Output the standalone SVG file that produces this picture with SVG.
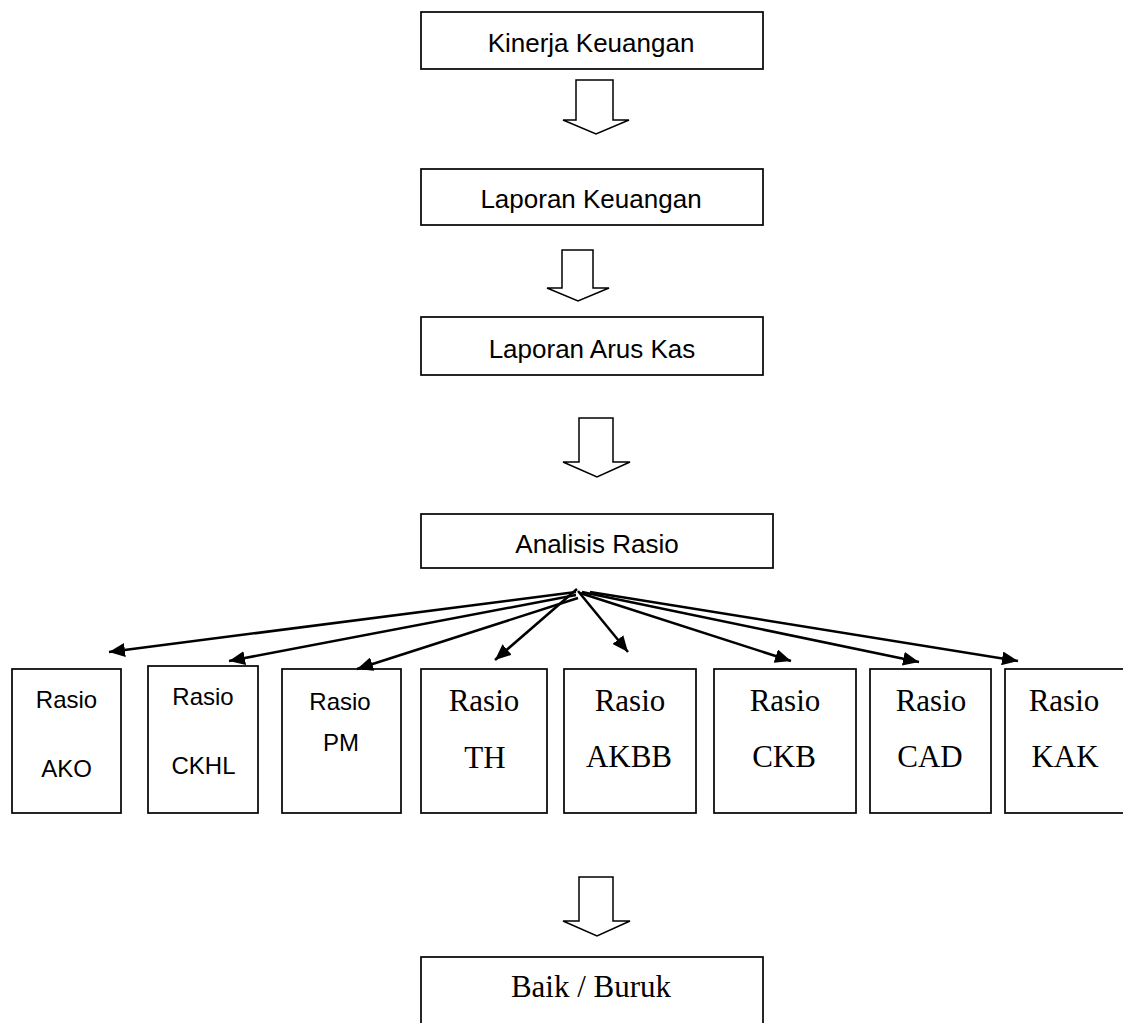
<svg xmlns="http://www.w3.org/2000/svg" width="1123" height="1023" viewBox="0 0 1123 1023">
<defs>
<marker id="ah" markerUnits="userSpaceOnUse" markerWidth="18" markerHeight="14" refX="16" refY="7" orient="auto"><path d="M0,0 L16,7 L0,14 Z" fill="#000"/></marker>
</defs>
<style>
.box{fill:#fff;stroke:#000;stroke-width:1.7}
.blk{fill:#fff;stroke:#000;stroke-width:1.5;stroke-linejoin:miter}
.s{font-family:"Liberation Sans",Arial,sans-serif;fill:#000;text-anchor:middle}
.t{font-family:"Liberation Serif","Times New Roman",serif;fill:#000;text-anchor:middle}
.fan{stroke:#000;stroke-width:2.5;fill:none;marker-end:url(#ah)}
</style>
<rect width="1123" height="1023" fill="#fff"/>
<g id="kinerja"><rect class="box" x="421" y="12" width="342" height="57"/><text class="s" x="591" y="52" font-size="26">Kinerja Keuangan</text></g>
<g id="laporan-keuangan"><rect class="box" x="421" y="169" width="342" height="56"/><text class="s" x="591" y="208" font-size="26">Laporan Keuangan</text></g>
<g id="laporan-arus-kas"><rect class="box" x="421" y="317" width="342" height="58"/><text class="s" x="592" y="358" font-size="26">Laporan Arus Kas</text></g>
<g id="analisis-rasio"><rect class="box" x="421" y="514" width="352" height="54"/><text class="s" x="597" y="553" font-size="26">Analisis Rasio</text></g>
<g id="baik-buruk"><rect class="box" x="421" y="957" width="342" height="80"/><text class="t" x="591" y="997" font-size="31">Baik / Buruk</text></g>
<g id="ako"><rect class="box" x="12" y="669" width="109" height="144"/><text class="s" x="66.5" y="708" font-size="24">Rasio</text><text class="s" x="66.5" y="777" font-size="24">AKO</text></g>
<g id="ckhl"><rect class="box" x="148" y="666" width="110" height="147"/><text class="s" x="203" y="705" font-size="24">Rasio</text><text class="s" x="203.5" y="774" font-size="24">CKHL</text></g>
<g id="pm"><rect class="box" x="282" y="669" width="119" height="144"/><text class="s" x="340" y="710" font-size="24">Rasio</text><text class="s" x="341" y="751" font-size="24">PM</text></g>
<g id="th"><rect class="box" x="421" y="669" width="126" height="144"/><text class="t" x="484" y="711" font-size="31">Rasio</text><text class="t" x="485" y="768" font-size="31">TH</text></g>
<g id="akbb"><rect class="box" x="564" y="669" width="132" height="144"/><text class="t" x="630" y="711" font-size="31">Rasio</text><text class="t" x="629" y="767" font-size="31">AKBB</text></g>
<g id="ckb"><rect class="box" x="714" y="669" width="142" height="144"/><text class="t" x="785" y="711" font-size="31">Rasio</text><text class="t" x="784" y="767" font-size="31">CKB</text></g>
<g id="cad"><rect class="box" x="870" y="669" width="121" height="144"/><text class="t" x="931" y="711" font-size="31">Rasio</text><text class="t" x="930" y="767" font-size="31">CAD</text></g>
<g id="kak"><rect class="box" x="1005" y="669" width="130" height="144"/><text class="t" x="1064" y="711" font-size="31">Rasio</text><text class="t" x="1065" y="767" font-size="31">KAK</text></g>
<g id="connectors">
<path class="blk" d="M576,80 H613 V120 H629 L596,134 L563,120 H576 Z"/>
<path class="blk" d="M562,250 H593 V288 H609 L578,301 L547,288 H562 Z"/>
<path class="blk" d="M579,418 H613 V462 H630 L597,477 L563,462 H579 Z"/>
<path class="blk" d="M579,877 H613 V921 H630 L597,936 L563,921 H579 Z"/>
<path class="fan" d="M576,592 L109,652"/>
<path class="fan" d="M576,595 L229,661"/>
<path class="fan" d="M578,598 L357,669"/>
<path class="fan" d="M577,589 L495,660"/>
<path class="fan" d="M578,591 L628,652"/>
<path class="fan" d="M580,593 L791,661"/>
<path class="fan" d="M582,592 L919,662"/>
<path class="fan" d="M590,592 L1018,661"/>
</g>
</svg>
